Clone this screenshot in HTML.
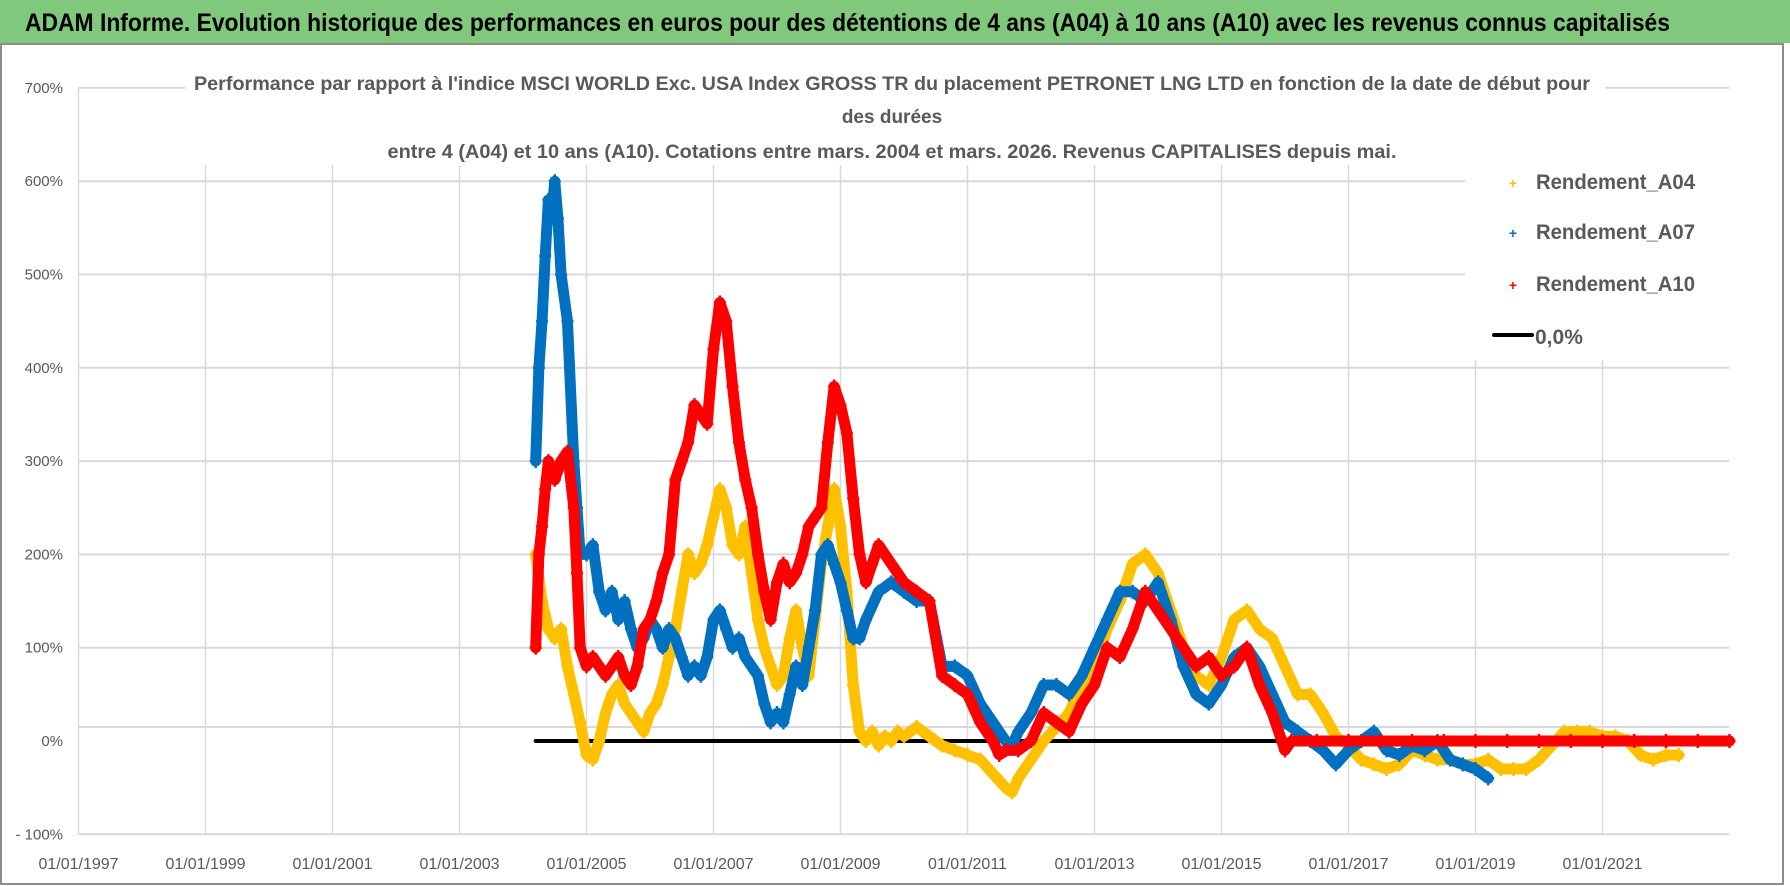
<!DOCTYPE html>
<html><head><meta charset="utf-8"><style>
html,body{margin:0;padding:0;background:#fff;}
svg{display:block;font-family:"Liberation Sans",sans-serif;}
</style></head><body>
<svg id="chart" width="1790" height="886" viewBox="0 0 1790 886" xmlns="http://www.w3.org/2000/svg">
<rect x="0" y="0" width="1790" height="886" fill="#fff"/>
<rect x="1" y="44" width="1782" height="840" fill="none" stroke="#8c8c8c" stroke-width="2"/>
<rect x="0" y="0" width="1790" height="43" fill="#80c87b"/>
<text x="25" y="31" font-size="25" font-weight="bold" fill="#000" textLength="1645" lengthAdjust="spacingAndGlyphs">ADAM Informe. Evolution historique des performances en euros pour des détentions de 4 ans (A04) à 10 ans (A10) avec les revenus connus capitalisés</text>
<g id="grid"></g>
<g id="yticks"></g>
<g id="xticks"></g>
<rect x="185" y="70" width="1420" height="95" fill="#fff"/>
<g fill="#595959" font-weight="bold" font-size="19" text-anchor="middle">
<text x="892" y="90" textLength="1396" lengthAdjust="spacingAndGlyphs">Performance par rapport à l'indice MSCI WORLD Exc. USA Index GROSS TR  du placement PETRONET LNG LTD en fonction de la date de début pour</text>
<text x="892" y="123">des durées</text>
<text x="892" y="158" textLength="1009" lengthAdjust="spacingAndGlyphs">entre 4 (A04) et 10 ans (A10). Cotations entre mars. 2004 et mars. 2026. Revenus CAPITALISES depuis mai.</text>
</g>
<rect x="1465" y="160" width="264" height="200" fill="#fff"/>
<g id="plot"></g>
<g font-size="21" font-weight="bold" fill="#595959">
<g><text x="1513" y="188" fill="#ffc000" font-size="14" text-anchor="middle">+</text><text x="1536" y="189" textLength="159" lengthAdjust="spacingAndGlyphs">Rendement_A04</text></g>
<g><text x="1513" y="238" fill="#0070c0" font-size="14" text-anchor="middle">+</text><text x="1536" y="239" textLength="159" lengthAdjust="spacingAndGlyphs">Rendement_A07</text></g>
<g><text x="1513" y="290" fill="#ff0000" font-size="14" text-anchor="middle">+</text><text x="1536" y="291" textLength="159" lengthAdjust="spacingAndGlyphs">Rendement_A10</text></g>
<g><line x1="1494" y1="335" x2="1532" y2="335" stroke="#000" stroke-width="4" stroke-linecap="round"/><text x="1535" y="344">0,0%</text></g>
</g>
</svg>
<script>
const yTicks = [-100,0,100,200,300,400,500,600,700];
const yTickLabels = ["- 100%","0%","100%","200%","300%","400%","500%","600%","700%"];
const xTickYears = [1997,1999,2001,2003,2005,2007,2009,2011,2013,2015,2017,2019,2021];
const xTickLabels = ["01/01/1997","01/01/1999","01/01/2001","01/01/2003","01/01/2005","01/01/2007","01/01/2009","01/01/2011","01/01/2013","01/01/2015","01/01/2017","01/01/2019","01/01/2021"];
const a04Dates = [2004.2,2004.3,2004.4,2004.5,2004.6,2004.7,2004.8,2004.9,2005.0,2005.1,2005.2,2005.3,2005.4,2005.5,2005.6,2005.7,2005.8,2005.9,2006.0,2006.1,2006.2,2006.3,2006.4,2006.5,2006.6,2006.7,2006.8,2006.9,2007.0,2007.1,2007.2,2007.3,2007.4,2007.5,2007.6,2007.7,2007.8,2007.9,2008.0,2008.1,2008.2,2008.3,2008.4,2008.5,2008.6,2008.7,2008.8,2008.9,2009.0,2009.1,2009.2,2009.3,2009.4,2009.5,2009.6,2009.7,2009.8,2009.9,2010.0,2010.2,2010.4,2010.6,2010.8,2011.0,2011.2,2011.4,2011.6,2011.7,2011.8,2012.0,2012.2,2012.4,2012.6,2012.8,2013.0,2013.2,2013.4,2013.6,2013.8,2014.0,2014.2,2014.4,2014.6,2014.8,2015.0,2015.2,2015.4,2015.6,2015.8,2016.0,2016.2,2016.4,2016.6,2016.8,2017.0,2017.2,2017.4,2017.6,2017.8,2018.0,2018.2,2018.4,2018.6,2018.8,2019.0,2019.2,2019.4,2019.6,2019.8,2020.0,2020.2,2020.4,2020.6,2020.8,2021.0,2021.2,2021.4,2021.6,2021.8,2022.0,2022.2];
const a04Values = [200,150,120,110,120,80,50,20,-15,-20,0,30,50,60,40,30,20,10,30,40,60,90,120,160,200,180,190,210,240,270,250,210,200,230,180,130,100,80,60,70,110,140,100,70,130,190,230,270,230,160,60,10,0,10,-5,5,0,10,5,15,5,-5,-10,-15,-20,-35,-50,-55,-40,-20,0,15,30,60,80,120,150,190,200,180,140,100,70,60,90,130,140,120,110,80,50,50,30,5,-5,-20,-25,-30,-25,-10,-15,-20,-20,-25,-25,-20,-30,-30,-30,-20,-5,10,10,10,5,5,0,-15,-20,-15,-15];
const a07Dates = [2004.2,2004.25,2004.3,2004.35,2004.4,2004.45,2004.5,2004.55,2004.6,2004.7,2004.8,2004.85,2004.9,2005.0,2005.1,2005.2,2005.3,2005.4,2005.5,2005.6,2005.7,2005.8,2005.9,2006.0,2006.1,2006.2,2006.3,2006.4,2006.5,2006.6,2006.7,2006.8,2006.9,2007.0,2007.1,2007.2,2007.3,2007.4,2007.5,2007.6,2007.7,2007.8,2007.9,2008.0,2008.1,2008.2,2008.3,2008.4,2008.5,2008.6,2008.7,2008.8,2008.9,2009.0,2009.1,2009.2,2009.3,2009.4,2009.6,2009.8,2010.0,2010.2,2010.4,2010.6,2010.8,2011.0,2011.2,2011.4,2011.6,2011.7,2011.8,2012.0,2012.2,2012.4,2012.6,2012.8,2013.0,2013.2,2013.4,2013.6,2013.8,2014.0,2014.2,2014.4,2014.6,2014.8,2015.0,2015.2,2015.4,2015.6,2015.8,2016.0,2016.2,2016.4,2016.6,2016.8,2017.0,2017.2,2017.4,2017.6,2017.8,2018.0,2018.2,2018.4,2018.6,2018.8,2019.0,2019.2];
const a07Values = [300,400,450,520,580,560,600,560,500,450,300,250,200,200,210,160,140,160,130,150,120,100,110,130,120,100,120,110,90,70,80,70,90,130,140,120,100,110,90,80,70,40,20,30,20,50,80,60,100,140,200,210,190,170,140,110,110,130,160,170,160,150,150,80,80,70,40,20,0,-5,10,30,60,60,50,70,100,130,160,160,150,170,130,80,50,40,60,90,100,80,50,20,10,0,-10,-25,-10,0,10,-10,-15,-5,-10,0,-20,-25,-30,-40];
const a10Dates = [2004.2,2004.25,2004.3,2004.35,2004.4,2004.5,2004.6,2004.7,2004.8,2004.85,2004.9,2005.0,2005.1,2005.2,2005.3,2005.4,2005.5,2005.6,2005.7,2005.8,2005.9,2006.0,2006.1,2006.2,2006.3,2006.4,2006.5,2006.6,2006.7,2006.8,2006.9,2007.0,2007.1,2007.2,2007.3,2007.4,2007.5,2007.6,2007.7,2007.8,2007.9,2008.0,2008.1,2008.2,2008.3,2008.4,2008.5,2008.6,2008.7,2008.8,2008.9,2009.0,2009.1,2009.2,2009.3,2009.4,2009.5,2009.6,2009.8,2010.0,2010.2,2010.4,2010.6,2010.8,2011.0,2011.2,2011.4,2011.5,2011.6,2011.8,2012.0,2012.2,2012.4,2012.6,2012.8,2013.0,2013.2,2013.4,2013.6,2013.8,2014.0,2014.2,2014.4,2014.6,2014.8,2015.0,2015.2,2015.4,2015.6,2015.8,2016.0,2016.1,2016.5,2017.0,2017.5,2018.0,2018.5,2019.0,2019.5,2020.0,2020.5,2021.0,2021.5,2022.0,2022.5,2023.0];
const a10Values = [100,200,230,270,300,280,300,310,250,180,100,80,90,80,70,80,90,70,60,80,120,130,150,180,200,280,300,320,360,350,340,420,470,450,380,320,280,250,200,160,130,170,190,170,180,200,230,240,250,320,380,360,330,260,200,170,190,210,190,170,160,150,70,60,50,20,0,-15,-10,-10,0,30,20,10,40,60,100,90,120,160,140,120,100,80,90,70,80,100,60,30,-10,0,0,0,0,0,0,0,0,0,0,0,0,0,0,0];
const zeroLineDates = [2004.2,2016.1];
const zeroLineValues = [0,0];

const NS="http://www.w3.org/2000/svg";
const X0=78.5, PX_PER_YEAR=63.5, Y0=741, PX_PER_PCT=0.933;
function xScale(yr){return X0+(yr-1997)*PX_PER_YEAR;}
function yScale(v){return Y0-v*PX_PER_PCT;}
function mk(tag,attrs,parent){const e=document.createElementNS(NS,tag);for(const k in attrs)e.setAttribute(k,attrs[k]);parent.appendChild(e);return e;}

const grid=document.getElementById('grid');
const yt=document.getElementById('yticks');
const xt=document.getElementById('xticks');
const plot=document.getElementById('plot');
const LEFT=78.5, RIGHT=1729;
yTicks.forEach((v,i)=>{
  if(v!==0){
    const l=mk('line',{x1:LEFT,x2:RIGHT,y1:yScale(v),y2:yScale(v),stroke:'#d9d9d9','stroke-width':2},grid);
    
    
  }
  const t=mk('text',{x:63,y:yScale(v)+5,'text-anchor':'end','font-size':15,fill:'#595959'},yt);
  t.textContent=yTickLabels[i];
  
  
});
const extra=mk('line',{x1:LEFT,x2:RIGHT,y1:727,y2:727,stroke:'#d9d9d9','stroke-width':2},grid);


xTickYears.forEach((yr,i)=>{
  const x=xScale(yr);
  const l=mk('line',{x1:x,x2:x,y1:yScale(700),y2:yScale(-100),stroke:'#d9d9d9','stroke-width':1.5},grid);
  
  
  const t=mk('text',{x:x,y:869,'text-anchor':'middle','font-size':16,fill:'#595959'},xt);
  t.textContent=xTickLabels[i];
  
  
});
const zl=mk('polyline',{points:zeroLineDates.map((d,i)=>xScale(d)+','+yScale(zeroLineValues[i])).join(' '),fill:'none',stroke:'#000','stroke-width':4,'stroke-linecap':'round'},plot);



function series(dates,vals,color,name){
  const g=mk('g',{},plot);
  
  
  const pl=mk('polyline',{points:dates.map((d,i)=>xScale(d)+','+yScale(vals[i])).join(' '),fill:'none',stroke:color,'stroke-width':11,'stroke-linejoin':'round','stroke-linecap':'round','stroke-dasharray':'4 1'},g);
  
  
  dates.forEach((d,i)=>{
    const x=xScale(d), y=yScale(vals[i]);
    const p=mk('path',{d:`M${x-6},${y}H${x+6}M${x},${y-7}V${y+7}`,stroke:color,'stroke-width':2.5},g);
    
    
  });
}
series(a04Dates,a04Values,'#ffc000','series-a04');
series(a07Dates,a07Values,'#0070c0','series-a07');
series(a10Dates,a10Values,'#ff0000','series-a10');
</script>
</body></html>
